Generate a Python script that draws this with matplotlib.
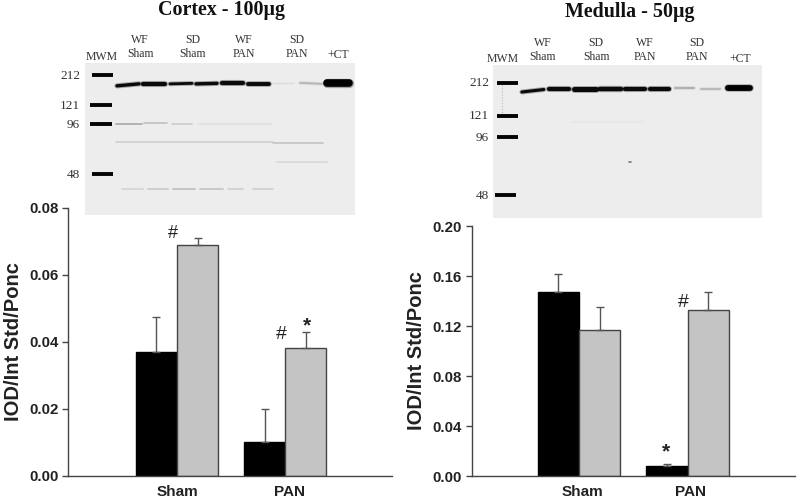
#!/usr/bin/env python3
"""Western blots with bar charts below them: cortex and medulla"""
import numpy as np
import matplotlib
matplotlib.use('Agg')
import matplotlib.pyplot as plt
from matplotlib.transforms import ScaledTranslation

groups = ['Sham', 'PAN']

cortex_black = [0.037, 0.010]
cortex_black_err = [0.0103, 0.010]
cortex_grey = [0.069, 0.038]
cortex_grey_err = [0.002, 0.005]
cortex_ticks = [0.00, 0.02, 0.04, 0.06, 0.08]

medulla_black = [0.147, 0.008]
medulla_black_err = [0.015, 0.0015]
medulla_grey = [0.117, 0.133]
medulla_grey_err = [0.018, 0.014]
medulla_ticks = [0.00, 0.04, 0.08, 0.12, 0.16, 0.20]

lane_names = ['WF\nSham', 'SD\nSham', 'WF\nPAN', 'SD\nPAN']
mw_labels = ['212', '121', '96', '48']

W, H = 800, 500
BLACK = '#000000'
GREY = '#c4c4c4'
EDGE = '#444444'
TEXT = '#222222'
LABEL = '#333333'


def axes_px(fig, left, top, right, bottom):
    """Make axes from pixel edges, y counted from the top"""
    return fig.add_axes([left / W, 1 - bottom / H, (right - left) / W, (bottom - top) / H])


def draw_bars(ax, black, black_err, grey, grey_err, ticks, ymax, xlim, label_shift):
    width = 0.38
    x = np.arange(len(groups))
    err_style = dict(ecolor='#555555', elinewidth=1.0, capsize=3, capthick=1.0)
    # upper error bars only
    ax.bar(x - width / 2, black, width, color=BLACK, edgecolor=BLACK, linewidth=1,
           yerr=[np.zeros(2), black_err], error_kw=err_style, zorder=2)
    ax.bar(x + width / 2, grey, width, color=GREY, edgecolor=EDGE, linewidth=1,
           yerr=[np.zeros(2), grey_err], error_kw=err_style, zorder=2)
    ax.set_xlim(*xlim)
    ax.set_ylim(0, ymax)
    ax.set_xticks(x)
    ax.set_xticklabels(groups)
    ax.set_yticks(ticks)
    ax.set_yticklabels([f'{t:.2f}' for t in ticks])
    ax.tick_params(axis='x', length=0, pad=6.5, labelsize=11, labelcolor=TEXT)
    ax.tick_params(axis='y', length=4, width=1, pad=3, labelsize=10.8, labelcolor=TEXT, color=EDGE)
    # group labels sit a little right of the bar pairs
    for lab, dx in zip(ax.get_xticklabels(), label_shift):
        lab.set_transform(lab.get_transform() + ScaledTranslation(dx / 100, 0, ax.figure.dpi_scale_trans))
    for s in ['top', 'right']:
        ax.spines[s].set_visible(False)
    for s in ['left', 'bottom']:
        ax.spines[s].set_color(EDGE)
        ax.spines[s].set_linewidth(1)
    ax.set_ylabel('IOD/Int Std/Ponc', fontsize=14.5, fontweight='bold', color=TEXT)
    ax.yaxis.set_label_coords(-0.14, 0.5)


def draw_blot(ax, markers, lanes, faint_rows, ct):
    ax.set_xlim(0, 270)
    ax.set_ylim(153, 0)
    ax.axis('off')
    ax.axhspan(0, 153, color='#ededed', zorder=0)
    for y, x0, x1 in markers:
        ax.plot([x0, x1], [y, y], color='#050505', lw=2.8, solid_capstyle='butt', zorder=3)
    for x0, x1, y0, y1, lw, col in lanes:
        # soft halo under each band, film scans are blurry
        ax.plot([x0, x1], [y0, y1], color=col, lw=lw + 1.4, alpha=0.3, solid_capstyle='round', zorder=2)
        ax.plot([x0, x1], [y0, y1], color=col, lw=lw, solid_capstyle='round', zorder=2)
    for y, x0, x1, col in faint_rows:
        ax.plot([x0, x1], [y, y], color=col, lw=1.2, solid_capstyle='round', zorder=1)
    x0, x1, y, lw = ct
    ax.plot([x0, x1], [y, y], color='#000000', lw=lw + 1.2, alpha=0.3, solid_capstyle='round', zorder=3)
    ax.plot([x0, x1], [y, y], color='#000000', lw=lw, solid_capstyle='round', zorder=3)


fig = plt.figure(figsize=(8, 5), dpi=100)
plt.rcParams['font.family'] = ['Liberation Sans', 'DejaVu Sans']
plt.rcParams['font.weight'] = 'bold'

# bar charts
ax1 = axes_px(fig, 68.3, 208, 392, 475.5)
draw_bars(ax1, cortex_black, cortex_black_err, cortex_grey, cortex_grey_err, cortex_ticks, 0.08,
          (-1.006, 1.99), (0, 4))
ax2 = axes_px(fig, 471.7, 226, 795, 476)
draw_bars(ax2, medulla_black, medulla_black_err, medulla_grey, medulla_grey_err, medulla_ticks, 0.20,
          (-0.989, 1.99), (3, 3))

# significance marks
ax1.text(-0.04, 0.0725, '#', fontsize=13, fontweight='normal', ha='center', va='center', color=TEXT)
ax1.text(0.963, 0.0423, '#', fontsize=14, fontweight='normal', ha='center', va='center', color=TEXT)
ax1.text(1.2, 0.0448, '*', fontsize=15, ha='center', va='center', color=TEXT)
ax2.text(0.958, 0.139, '#', fontsize=14, fontweight='normal', ha='center', va='center', color=TEXT)
ax2.text(0.80, 0.0195, '*', fontsize=15, ha='center', va='center', color=TEXT)

# cortex blot, pixel positions measured from the blot corner
blot1 = axes_px(fig, 85, 63, 355, 215)
dark = '#0a0a0a'
lanes1 = [(32, 54, 23, 21, 2.4, dark), (58, 80, 21, 21, 3.0, dark), (85, 107, 21, 20.5, 2.0, dark),
          (111, 132, 21, 20.5, 2.4, dark), (137, 158, 20.5, 20.5, 3.0, dark), (163, 184, 21, 21, 2.8, dark),
          (188, 208, 20.5, 20.5, 0.7, '#dcdcdc'), (215, 237, 20, 21, 1.2, '#b4b4b4')]
faint1 = [(61, 31, 57, '#a8a8a8'), (60, 59, 82, '#c0c0c0'), (61, 87, 107, '#cccccc'),
          (61, 113, 187, '#e0e0e0'), (80, 31, 188, '#cfcfcf'), (81, 188, 238, '#c4c4c4'),
          (100, 192, 242, '#d8d8d8'), (127, 37, 58, '#d4d4d4'), (127, 63, 83, '#c8c8c8'),
          (127, 88, 110, '#bcbcbc'), (127, 115, 138, '#c4c4c4'), (127, 143, 158, '#d0d0d0'),
          (127, 168, 188, '#d0d0d0')]
markers1 = [(12, 7, 28), (42, 5, 27), (61, 5, 27), (112, 7, 28)]
draw_blot(blot1, markers1, lanes1, faint1, (242, 264, 20, 5.5))

# medulla blot
blot2 = axes_px(fig, 493, 65, 762, 218)
lanes2 = [(29, 51, 27, 24.5, 2.2, dark), (56, 76, 24, 24, 3.0, dark), (81, 103, 24, 24, 3.6, dark),
          (107, 128, 24, 24, 3.2, dark), (132, 153, 24, 24, 3.0, dark), (158, 177, 24, 24, 3.0, dark),
          (183, 202, 23.5, 23.5, 1.2, '#a8a8a8'), (209, 228, 24, 24, 1.2, '#b4b4b4')]
faint2 = [(57, 80, 150, '#e6e6e6'), (97, 137, 139, '#777777')]
markers2 = [(18, 4, 25), (51, 4, 25), (72, 4, 25), (130, 2, 23)]
draw_blot(blot2, markers2, lanes2, faint2, (236, 258, 23.5, 4.2))
# faint smear under the top marker
blot2.plot([9, 9], [20, 50], color='#bbbbbb', lw=0.8, ls=':', zorder=1)


# blot titles and labels, placed in figure pixels
def fig_text(x, y, s, **kw):
    fig.text(x / W, 1 - y / H, s, ha=kw.pop('ha', 'center'), va='center', color=kw.pop('color', '#111111'),
             family=['Liberation Serif', 'DejaVu Serif'], **kw)


fig_text(221, 10, 'Cortex - 100µg', fontsize=14.4, fontweight='bold')
fig_text(630, 12, 'Medulla - 50µg', fontsize=14.4, fontweight='bold')

for x, s in zip([140, 193, 244, 297], lane_names):
    fig_text(x, 47, s, fontsize=8.5, fontweight='normal', linespacing=1.25, color=LABEL)
fig_text(102, 57, 'MWM', fontsize=8.5, fontweight='normal', color=LABEL)
fig_text(338, 55, '+CT', fontsize=8.5, fontweight='normal', color=LABEL)
for x, s in zip([543, 596, 645, 697], lane_names):
    fig_text(x, 50, s, fontsize=8.5, fontweight='normal', linespacing=1.25, color=LABEL)
fig_text(503, 59, 'MWM', fontsize=8.5, fontweight='normal', color=LABEL)
fig_text(740, 59, '+CT', fontsize=8.5, fontweight='normal', color=LABEL)

for y, s in zip([76, 106, 125, 175], mw_labels):
    fig_text(80, y, s, fontsize=9.5, fontweight='normal', ha='right', color=LABEL)
for y, s in zip([83, 116, 138, 196], mw_labels):
    fig_text(489, y, s, fontsize=9.5, fontweight='normal', ha='right', color=LABEL)

plt.savefig('out.png', dpi=100)
